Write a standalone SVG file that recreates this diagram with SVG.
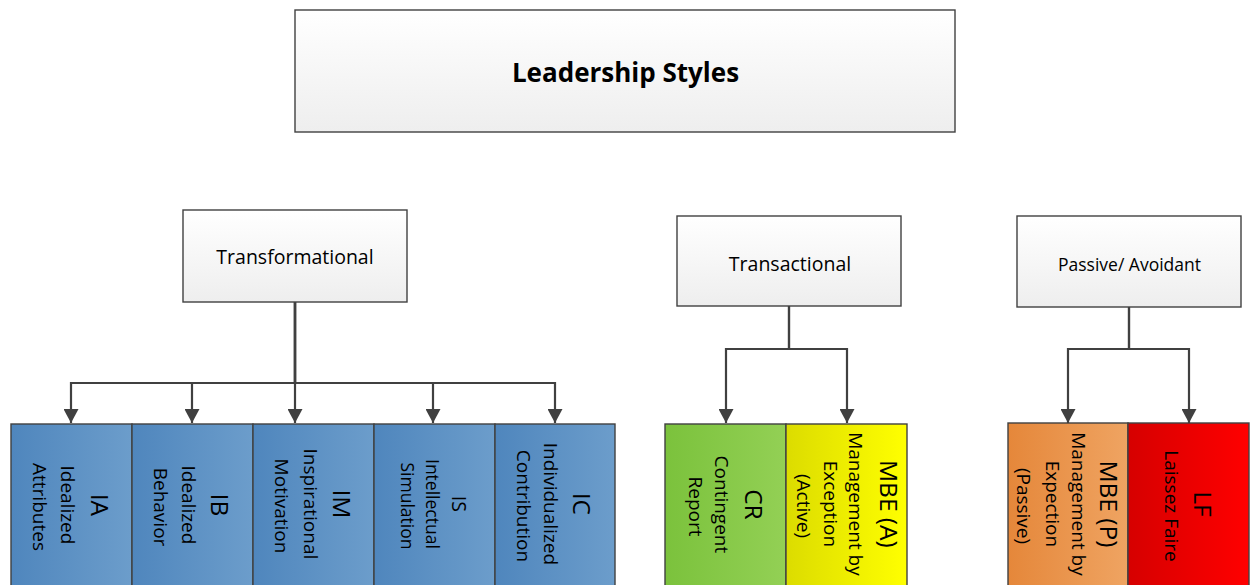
<svg xmlns="http://www.w3.org/2000/svg" width="1255" height="585" viewBox="0 0 1255 585">
<style>
  .hdr { stroke:#404040; stroke-width:1.4; fill:url(#gHdr); }
  .box { stroke:#404040; stroke-width:1.4; }
  .t { font-family:"Open Sans","Noto Sans","Liberation Sans",sans-serif; fill:#000; text-anchor:middle; }
  .main { font-size:24.5px; }
  .sub { font-size:19px; }
  .conn { fill:none; stroke:#404040; stroke-width:2.2; marker-end:url(#arr); }
</style>
<defs>
  <linearGradient id="gHdr" x1="0" y1="0" x2="0" y2="1">
    <stop offset="0" stop-color="#ffffff"/>
    <stop offset="1" stop-color="#eeeeee"/>
  </linearGradient>
  <linearGradient id="gBlue" x1="0" y1="0" x2="1" y2="0">
    <stop offset="0" stop-color="#4f86bd"/>
    <stop offset="1" stop-color="#6c9dcb"/>
  </linearGradient>
  <linearGradient id="gGreen" x1="0" y1="0" x2="1" y2="0">
    <stop offset="0" stop-color="#7bc23c"/>
    <stop offset="1" stop-color="#93d055"/>
  </linearGradient>
  <linearGradient id="gYellow" x1="0" y1="0" x2="1" y2="0">
    <stop offset="0" stop-color="#dcdc00"/>
    <stop offset="1" stop-color="#ffff00"/>
  </linearGradient>
  <linearGradient id="gOrange" x1="0" y1="0" x2="1" y2="0">
    <stop offset="0" stop-color="#e5873a"/>
    <stop offset="1" stop-color="#efa462"/>
  </linearGradient>
  <linearGradient id="gRed" x1="0" y1="0" x2="1" y2="0">
    <stop offset="0" stop-color="#d60000"/>
    <stop offset="1" stop-color="#ff0000"/>
  </linearGradient>
  <marker id="arr" viewBox="0 0 14 15" refX="14" refY="7.5" markerWidth="14" markerHeight="15" markerUnits="userSpaceOnUse" orient="auto">
    <path d="M0,0 L14,7.5 L0,15 z" fill="#404040"/>
  </marker>
</defs>

<g id="connectors">
  <path class="conn" d="M295,302 V383 H71 V423"/>
  <path class="conn" d="M295,302 V383 H192 V423"/>
  <path class="conn" d="M295,302 V423"/>
  <path class="conn" d="M295,302 V383 H433 V423"/>
  <path class="conn" d="M295,302 V383 H555 V423"/>
  <path class="conn" d="M789,306 V349 H726 V423"/>
  <path class="conn" d="M789,306 V349 H847 V423"/>
  <path class="conn" d="M1129,307 V349 H1068 V423"/>
  <path class="conn" d="M1129,307 V349 H1189 V423"/>
</g>

<g id="leadership-styles">
  <rect class="hdr" x="295" y="10" width="660" height="122"/>
  <text class="t" x="625.5" y="82" font-size="26" font-weight="bold">Leadership Styles</text>
</g>
<g id="transformational">
  <rect class="hdr" x="183" y="210" width="224" height="92"/>
  <text class="t" x="295" y="264" font-size="19.5">Transformational</text>
</g>
<g id="transactional">
  <rect class="hdr" x="677" y="216" width="224" height="90"/>
  <text class="t" x="790" y="270.5" font-size="19.5">Transactional</text>
</g>
<g id="passive-avoidant">
  <rect class="hdr" x="1017" y="216" width="224" height="91"/>
  <text class="t" x="1129.5" y="270.5" font-size="17.5">Passive/ Avoidant</text>
</g>

<g id="ia">
  <rect class="box" x="11" y="424" width="121" height="166" fill="url(#gBlue)"/>
  <text class="t" transform="translate(71.5,507) rotate(90)">
    <tspan class="main" x="0" y="-19">IA</tspan>
    <tspan class="sub" x="0" y="10.5">Idealized</tspan>
    <tspan class="sub" x="0" y="38.3">Attributes</tspan>
  </text>
</g>
<g id="ib">
  <rect class="box" x="132" y="424" width="121" height="166" fill="url(#gBlue)"/>
  <text class="t" transform="translate(192.5,507) rotate(90)">
    <tspan class="main" x="0" y="-18.5">IB</tspan>
    <tspan class="sub" x="0" y="10.8">Idealized</tspan>
    <tspan class="sub" x="0" y="38.5">Behavior</tspan>
  </text>
</g>
<g id="im">
  <rect class="box" x="253" y="424" width="121" height="166" fill="url(#gBlue)"/>
  <text class="t" transform="translate(313.5,506) rotate(90)">
    <tspan class="main" x="0" y="-19.5">IM</tspan>
    <tspan class="sub" x="0" y="10">Inspirational</tspan>
    <tspan class="sub" x="0" y="38.5">Motivation</tspan>
  </text>
</g>
<g id="is">
  <rect class="box" x="374" y="424" width="121" height="166" fill="url(#gBlue)"/>
  <text class="t" transform="translate(434.5,506) rotate(90)">
    <tspan x="0" y="-17.5" font-size="19.5">IS</tspan>
    <tspan x="0" y="8.5" font-size="17.5">Intellectual</tspan>
    <tspan x="0" y="33.5" font-size="17.5">Simulation</tspan>
  </text>
</g>
<g id="ic">
  <rect class="box" x="495" y="424" width="120" height="166" fill="url(#gBlue)"/>
  <text class="t" transform="translate(555,506) rotate(90)">
    <tspan class="main" x="0" y="-18.3">IC</tspan>
    <tspan class="sub" x="0" y="11">Individualized</tspan>
    <tspan class="sub" x="0" y="38.3">Contribution</tspan>
  </text>
</g>

<g id="cr">
  <rect class="box" x="665" y="424" width="121" height="166" fill="url(#gGreen)"/>
  <text class="t" transform="translate(725.5,506.5) rotate(90)">
    <tspan class="main" x="0" y="-19.5">CR</tspan>
    <tspan class="sub" x="0" y="10.3">Contingent</tspan>
    <tspan class="sub" x="0" y="37">Report</tspan>
  </text>
</g>
<g id="mbe-a">
  <rect class="box" x="786" y="424" width="121" height="166" fill="url(#gYellow)"/>
  <text class="t" transform="translate(846.5,506) rotate(90)">
    <tspan class="main" x="0" y="-33.5">MBE (A)</tspan>
    <tspan class="sub" x="0" y="-2">Management by</tspan>
    <tspan class="sub" x="0" y="23">Exception</tspan>
    <tspan class="sub" x="0" y="49.5">(Active)</tspan>
  </text>
</g>

<g id="mbe-p">
  <rect class="box" x="1008" y="423" width="120" height="167" fill="url(#gOrange)"/>
  <text class="t" transform="translate(1068,506) rotate(90)">
    <tspan class="main" x="0" y="-32">MBE (P)</tspan>
    <tspan class="sub" x="0" y="-4">Management by</tspan>
    <tspan class="sub" x="0" y="22.5">Expection</tspan>
    <tspan class="sub" x="0" y="51.5">(Passive)</tspan>
  </text>
</g>
<g id="lf">
  <rect class="box" x="1128" y="423" width="121" height="167" fill="url(#gRed)"/>
  <text class="t" transform="translate(1188.5,506) rotate(90)">
    <tspan class="main" x="0" y="-5.5">LF</tspan>
    <tspan class="sub" x="0" y="23.5">Laissez Faire</tspan>
  </text>
</g>
</svg>
